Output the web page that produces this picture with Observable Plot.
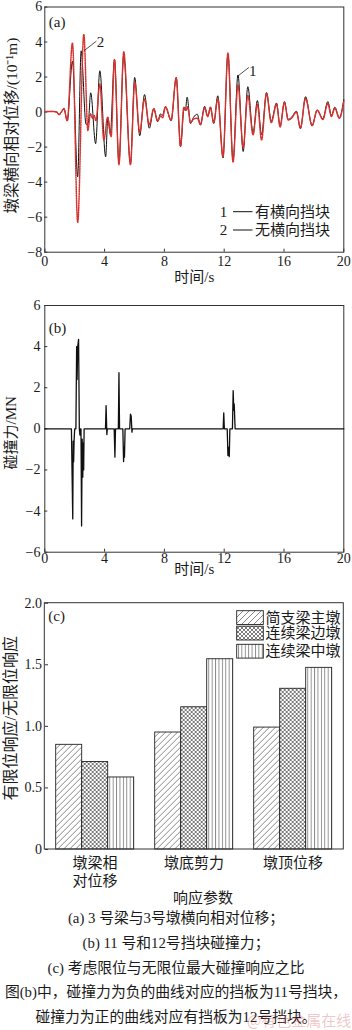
<!DOCTYPE html>
<html><head><meta charset="utf-8">
<script src="https://cdn.jsdelivr.net/npm/d3@7"></script>
<script src="https://cdn.jsdelivr.net/npm/@observablehq/plot@0.6"></script>
<style>
body{margin:0;background:#fff;}
#wrap{position:relative;width:352px;height:1030px;overflow:hidden;font-family:'Liberation Serif','Noto Sans CJK SC',serif;color:#1a1a1a;background:#fff;}
svg{display:block}
#cap{text-align:center;font-size:14.8px;line-height:24.8px;white-space:nowrap;}
#wm{position:absolute;left:247px;top:1009px;font-size:15px;color:rgba(214,90,90,0.35);font-family:'Noto Sans CJK SC',sans-serif;}
</style></head><body>
<div id="wrap"><div id="pa"></div><div id="pb"></div><div id="pc"></div>
<div id="cap"></div><div id="wm">@有色金属在线</div></div>
<script>
const FONT = "'Liberation Serif','Noto Sans CJK SC',serif";

// ---- (a) relative displacement (10^-1 m) ----
const timeWith = [0,0.5,0.8,0.95,1.12,1.28,1.5,1.85,2.2,2.43,2.76,2.9,3.07,3.4,3.68,4.07,4.22,4.38,4.66,4.96,5.28,5.73,6.01,6.35,6.67,6.99,7.29,7.55,7.74,7.86,8.07,8.45,8.79,9.08,9.32,9.4,9.52,9.75,9.95,10.2,10.41,10.69,10.9,11.08,11.3,11.57,11.92,12.25,12.59,12.92,13.27,13.58,13.93,14.22,14.5,14.83,15.15,15.5,15.74,16.03,16.28,16.5,16.83,17.1,17.44,17.88,18.22,18.6,18.93,19.17,19.4,19.7,20];
const dispWith = [0.03,0.04,0.0,-0.15,0.02,0.2,-0.5,2.9,-3.7,3.5,-0.7,-0.65,1.1,-1.8,2.36,-2.55,-0.3,-1.25,3.0,-2.85,3.2,-2.95,1.98,-1.35,1.0,-0.92,0.18,-0.55,-0.1,-0.2,0.3,-0.5,1.98,-1.97,0.22,0.08,0.85,-0.65,-0.3,-0.12,-0.75,0.33,-0.25,0.3,-0.65,0.93,-2.62,3.3,-2.78,2.12,-2.25,1.45,-1.2,0.66,-1.3,1.12,-0.52,0.52,-0.8,0.6,-0.42,-0.3,0.05,-0.95,0.88,-0.8,0.12,-0.38,0.6,-0.2,0.28,-0.33,0.7];
const timeWithout = [0,0.5,0.8,0.95,1.12,1.28,1.5,1.85,2.2,2.61,2.88,3.05,3.2,3.3,3.42,3.68,3.95,4.2,4.44,4.66,4.96,5.28,5.73,6.02,6.35,6.67,6.99,7.29,7.55,7.74,7.88,8.07,8.45,8.79,9.08,9.3,9.45,9.55,9.75,9.95,10.2,10.41,10.69,10.9,11.08,11.3,11.57,11.92,12.25,12.59,12.92,13.27,13.58,13.93,14.22,14.5,14.83,15.15,15.5,15.74,16.03,16.28,16.5,16.83,17.1,17.44,17.88,18.22,18.6,18.93,19.17,19.4,19.7,20];
const dispWithout = [0.03,0.04,0.0,-0.15,0.02,0.2,-0.5,3.95,-6.3,4.44,-1.05,-0.1,-0.35,-0.2,-0.5,1.6,-1.6,-0.3,-1.4,3.0,-3.0,3.44,-3.0,1.7,-1.15,0.75,-0.72,0.2,-0.5,-0.22,-0.32,0.3,-0.45,1.95,-1.95,0.28,0.1,0.3,-0.6,-0.4,-0.35,-0.7,0.25,-0.25,0.25,-0.6,0.75,-2.55,3.38,-2.85,1.55,-2.0,0.95,-1.3,0.45,-1.6,1.05,-0.6,0.45,-0.85,0.55,-0.45,-0.35,0.0,-0.9,0.78,-0.75,0.1,-0.42,0.5,-0.25,0.22,-0.35,0.62];
const timeTicks = [0,4,8,12,16,20];
const dispTicks = [-8,-6,-4,-2,0,2,4,6];
const legendA = [["1","有横向挡块"],["2","无横向挡块"]];
const curveTags = [
  {label:"2", t:3.73, v:3.97, t0:2.62, v0:3.5, t1:3.45, v1:4.05},
  {label:"1", t:13.91, v:2.36, t0:12.93, v0:2.07, t1:13.65, v1:2.55}
];

// ---- (b) pounding force (MN) ----
const timeForce = [0,1.78,1.87,1.9,1.93,1.96,2.0,2.08,2.13,2.16,2.2,2.26,2.31,2.35,2.38,2.42,2.46,2.5,2.54,2.57,2.6,2.63,4.06,4.1,4.15,4.18,4.64,4.69,4.73,4.92,4.96,5.0,5.22,5.27,5.3,5.33,5.37,5.68,5.73,5.78,5.83,5.86,11.93,11.97,12.01,12.2,12.25,12.29,12.34,12.38,12.55,12.6,12.64,12.67,12.73,20];
const forceVal = [0,0,-4.38,-0.6,-1.6,-0.55,0,0,4.0,2.4,4.0,4.35,0,-0.3,0,0,-4.72,-0.5,-2.35,-0.7,-2.0,0,0,1.13,-0.28,0,0,-1.38,0,0,2.73,0,0,-1.59,-0.9,-1.38,0,0,0.72,0.6,-0.16,0,0,0.78,0,0,-1.3,-0.9,-1.35,0,0,1.86,0.9,1.21,0,0];
const forceTicks = [-6,-4,-2,0,2,4,6];

// ---- (c) ratio bars ----
const groups = ["墩梁相对位移","墩底剪力","墩顶位移"];
const groupLabels = ["墩梁相\n对位移","墩底剪力","墩顶位移"];
const series = ["简支梁主墩","连续梁边墩","连续梁中墩"];
const ratioSimple = [0.85,0.95,0.99];
const ratioEdge = [0.71,1.155,1.305];
const ratioMid = [0.585,1.545,1.475];
const ratioTicks = [0,0.5,1,1.5,2];
const patterns = ["hDiag","hCross","hVert"];

const captionLines = [
  "(a) 3 号梁与3号墩横向相对位移；",
  "(b) 11 号和12号挡块碰撞力；",
  "(c) 考虑限位与无限位最大碰撞响应之比",
  "图(b)中，碰撞力为负的曲线对应的挡板为11号挡块，",
  "碰撞力为正的曲线对应有挡板为12号挡块。"
];

const toRows = (ts, vs) => ts.map((t, i) => ({t, v: vs[i]}));
const seriesWith = toRows(timeWith, dispWith);
const seriesWithout = toRows(timeWithout, dispWithout);
const forceRows = toRows(timeForce, forceVal);
const ratioTable = [];
groups.forEach((g, i) => {
  ratioTable.push({group: g, series: series[0], value: ratioSimple[i]});
  ratioTable.push({group: g, series: series[1], value: ratioEdge[i]});
  ratioTable.push({group: g, series: series[2], value: ratioMid[i]});
});

const baseStyle = {fontFamily: FONT, fontSize: "14px", color: "#1a1a1a", background: "#fff", overflow: "visible"};
const one = s => [s];
const blank = () => "";
// inward ticks: outward tick of length 3 shifted by 3 px into the frame
const inTicksX = (ticks, shift = 0) => Plot.axisX({ticks, tickSize: 3, dy: -3, tickFormat: blank, label: null, stroke: "#333"});
const inTicksY = (ticks, shift = 0) => Plot.axisY({ticks, tickSize: 3, dx: 3 + shift, tickFormat: blank, label: null, stroke: "#333"});

// ---------- Panel (a) ----------
const svgA = Plot.plot({
  width: 352, height: 290,
  marginLeft: 44.3, marginRight: 8.7, marginTop: 6.5, marginBottom: 38.3,
  style: baseStyle,
  x: {domain: [0, 20]},
  y: {domain: [-8, 6]},
  marks: [
    Plot.frame({stroke: "#333", strokeWidth: 1}),
    inTicksX(timeTicks), inTicksY(dispTicks),
    Plot.axisX({ticks: timeTicks, tickSize: 0, tickPadding: 4, label: null, fontSize: 14}),
    Plot.axisY({ticks: dispTicks, tickSize: 0, tickPadding: 2.6, label: null, fontSize: 14}),
    Plot.line(seriesWith, {x: "t", y: "v", stroke: "#111", strokeWidth: 1, curve: "monotone-x"}),
    Plot.line(seriesWithout, {x: "t", y: "v", stroke: "#d8322e", strokeWidth: 1.5, strokeDasharray: "1.2,1.1", curve: "monotone-x"}),
    Plot.link(curveTags, {x1: "t0", y1: "v0", x2: "t1", y2: "v1", stroke: "#222", strokeWidth: 0.8}),
    Plot.text(curveTags, {x: "t", y: "v", text: "label", fontSize: 15}),
    Plot.text(one("(a)"), {text: d => d, frameAnchor: "top-left", textAnchor: "start", dx: 4, dy: 9.3, fontSize: 15}),
    Plot.text(one("时间/s"), {text: d => d, frameAnchor: "bottom", textAnchor: "middle", dy: 30, fontSize: 15}),
    Plot.text(one("墩梁横向相对位移/(10⁻¹m)"), {text: d => d, frameAnchor: "left", textAnchor: "middle", dx: -33, dy: -4, rotate: -90, fontSize: 15.5})
  ]
});
document.getElementById("pa").appendChild(svgA);
{
  const g = d3.select(svgA).append("g").attr("font-family", FONT).attr("font-size", 15).attr("fill", "#1a1a1a");
  legendA.forEach(([num, name], i) => {
    const y = 211.7 + i * 18.3;
    g.append("text").attr("x", 223.5).attr("y", y).attr("dy", "0.35em").attr("text-anchor", "middle").text(num);
    g.append("line").attr("x1", 233).attr("x2", 252.5).attr("y1", y).attr("y2", y).attr("stroke", "#111").attr("stroke-width", 1);
    g.append("text").attr("x", 255).attr("y", y).attr("dy", "0.35em").attr("text-anchor", "start").text(name);
  });
}

// ---------- Panel (b) ----------
const svgB = Plot.plot({
  width: 352, height: 300,
  marginLeft: 44.3, marginRight: 8.7, marginTop: 15, marginBottom: 38.3,
  style: baseStyle,
  x: {domain: [0, 20]},
  y: {domain: [-6, 6]},
  marks: [
    Plot.frame({stroke: "#333", strokeWidth: 1}),
    inTicksX(timeTicks), inTicksY(forceTicks),
    Plot.axisX({ticks: timeTicks, tickSize: 0, tickPadding: 0.5, label: null, fontSize: 14}),
    Plot.axisY({ticks: forceTicks, tickSize: 0, tickPadding: 4.3, label: null, fontSize: 14}),
    Plot.line(forceRows, {x: "t", y: "v", stroke: "#111", strokeWidth: 1.3}),
    Plot.text(one("(b)"), {text: d => d, frameAnchor: "top-left", textAnchor: "start", dx: 4, dy: 17, fontSize: 15}),
    Plot.text(one("时间/s"), {text: d => d, frameAnchor: "bottom", textAnchor: "middle", dy: 21.6, fontSize: 15}),
    Plot.text(one("碰撞力/MN"), {text: d => d, frameAnchor: "left", textAnchor: "middle", dx: -33.8, dy: 4, rotate: -90, fontSize: 15})
  ]
});
document.getElementById("pb").appendChild(svgB);

// ---------- Panel (c) ----------
const mlC = 44.3, mrC = 8.7, mtC = 12.7, mbC = 57, hC = 316;
const fxInner = 0.2, fxOuter = 0.1;
// the facet y-axis sits on the first facet's edge; shift it back to the frame edge
const fxStep = (352 - mlC - mrC) / (groups.length - fxInner + 2 * fxOuter);
const facetShift = -fxOuter * fxStep;
const svgC = Plot.plot({
  width: 352, height: hC,
  marginLeft: mlC, marginRight: mrC, marginTop: mtC, marginBottom: mbC,
  style: baseStyle,
  fx: {domain: groups, paddingInner: fxInner, paddingOuter: fxOuter, axis: null, label: null},
  x: {domain: series, padding: 0, axis: null},
  y: {domain: [0, 2], axis: null},
  marks: [
    ...series.map((s, k) => Plot.barY(ratioTable, {
      filter: d => d.series === s, fx: "group", x: "series", y: "value",
      fill: `url(#${patterns[k]})`, stroke: "#222", strokeWidth: 0.9
    })),
    inTicksY(ratioTicks, facetShift),
    Plot.axisY({ticks: ratioTicks, tickSize: 0, tickPadding: 3.6, dx: facetShift, label: null, fontSize: 14, tickFormat: d => d === 0 ? "0" : d.toFixed(1)}),
    Plot.axisFx({anchor: "bottom", tickSize: 0, tickPadding: 5, label: null, fontSize: 15, lineHeight: 1.22, tickFormat: d => groupLabels[groups.indexOf(d)]})
  ]
});
document.getElementById("pc").appendChild(svgC);
{
  const svg = d3.select(svgC);
  const defs = svg.insert("defs", ":first-child");
  const p1 = defs.append("pattern").attr("id", "hDiag").attr("patternUnits", "userSpaceOnUse").attr("width", 6).attr("height", 6);
  p1.append("rect").attr("width", 6).attr("height", 6).attr("fill", "#fff");
  p1.append("path").attr("d", "M0,6L6,0M-1.5,1.5L1.5,-1.5M4.5,7.5L7.5,4.5").attr("stroke", "#555").attr("stroke-width", 0.7);
  const p2 = defs.append("pattern").attr("id", "hCross").attr("patternUnits", "userSpaceOnUse").attr("width", 4).attr("height", 4);
  p2.append("rect").attr("width", 4).attr("height", 4).attr("fill", "#fff");
  p2.append("path").attr("d", "M0,4L4,0M-1,1L1,-1M3,5L5,3M0,0L4,4M-1,3L1,5M3,-1L5,1").attr("stroke", "#444").attr("stroke-width", 0.7);
  const p3 = defs.append("pattern").attr("id", "hVert").attr("patternUnits", "userSpaceOnUse").attr("width", 3.4).attr("height", 4);
  p3.append("rect").attr("width", 3.4).attr("height", 4).attr("fill", "#fff");
  p3.append("path").attr("d", "M0.5,0V4").attr("stroke", "#555").attr("stroke-width", 0.7);
  // outer frame
  svg.append("rect").attr("x", mlC).attr("y", mtC).attr("width", 352 - mlC - mrC).attr("height", hC - mtC - mbC)
    .attr("fill", "none").attr("stroke", "#333").attr("stroke-width", 1);
  const g = svg.append("g").attr("font-family", FONT).attr("font-size", 15).attr("fill", "#1a1a1a").attr("text-anchor", "start");
  g.append("text").attr("x", mlC + 4).attr("y", 25.3).attr("dy", "0.35em").attr("text-anchor", "start").text("(c)");
  g.append("text").attr("x", 203).attr("y", 308).attr("dy", "0.35em").attr("text-anchor", "middle").text("响应参数");
  g.append("text").attr("x", 10).attr("y", 128.3).attr("dy", "0.35em").attr("text-anchor", "middle")
    .attr("transform", "rotate(-90,10,128.3)").attr("font-size", 16).text("有限位响应/无限位响应");
  const rows = [20.7, 36.2, 54.3];
  series.forEach((s, k) => {
    g.append("rect").attr("x", 236.7).attr("y", rows[k]).attr("width", 26.6).attr("height", 13.8)
      .attr("fill", `url(#${patterns[k]})`).attr("stroke", "#222").attr("stroke-width", 0.9);
    g.append("text").attr("x", 265.5).attr("y", rows[k] + 6.9).attr("dy", "0.35em").attr("text-anchor", "start").text(s);
  });
}

// caption
const cap = document.getElementById("cap");
captionLines.forEach(l => { const d = document.createElement("div"); d.textContent = l; cap.appendChild(d); });
</script></body></html>
